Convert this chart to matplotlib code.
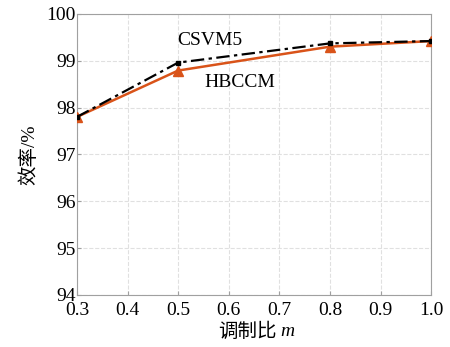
import matplotlib

matplotlib.use("Agg")
import matplotlib.pyplot as plt

# modulation ratio m and efficiency (%)
m_values = [0.3, 0.5, 0.8, 1.0]
csvm5_eff = [97.8, 98.96, 99.37, 99.42]
hbccm_eff = [97.8, 98.79, 99.30, 99.42]
x_ticks = [0.3, 0.4, 0.5, 0.6, 0.7, 0.8, 0.9, 1.0]
y_ticks = [94, 95, 96, 97, 98, 99, 100]

plt.rcParams["font.family"] = ["Liberation Serif", "Noto Sans CJK SC"]

fig = plt.figure(figsize=(4.5, 3.47), dpi=100)
ax = fig.add_axes([0.171, 0.15, 0.787, 0.81])

ax.plot(m_values, hbccm_eff, color="#D95319", lw=1.8, marker="^", ms=7, zorder=3)
ax.plot(m_values, csvm5_eff, color="black", lw=1.6, ls=(0, (6, 2, 1.5, 2)),
        marker="s", ms=2.5, zorder=4)

ax.text(0.563, 99.44, "CSVM5", fontsize=14, ha="center", va="center")
ax.text(0.622, 98.53, "HBCCM", fontsize=14, ha="center", va="center")

ax.set_xlim(0.3, 1.0)
ax.set_ylim(94, 100)
ax.set_xticks(x_ticks)
ax.set_xticklabels([f"{v:.1f}" for v in x_ticks])
ax.set_yticks(y_ticks)
ax.grid(True, ls="--", color="#e0e0e0", lw=0.8)
ax.set_axisbelow(True)
for spine in ax.spines.values():
    spine.set_color("#a0a0a0")
ax.tick_params(direction="in", length=3, color="#a0a0a0", labelsize=14)
ax.tick_params(axis="x", pad=5)
ax.tick_params(axis="y", pad=1)
ax.set_ylabel("效率/%", fontsize=14, labelpad=6)

# x label: CJK part plus italic m
fig.text(277 / 450, 1 - 331 / 347, "调制比", fontsize=14, ha="right", va="center",
         family=["Noto Sans CJK SC"])
fig.text(280 / 450, 1 - 331 / 347, "m", fontsize=14, ha="left", va="center",
         family=["Liberation Serif"], style="italic")

fig.savefig("out.png", dpi=100)
